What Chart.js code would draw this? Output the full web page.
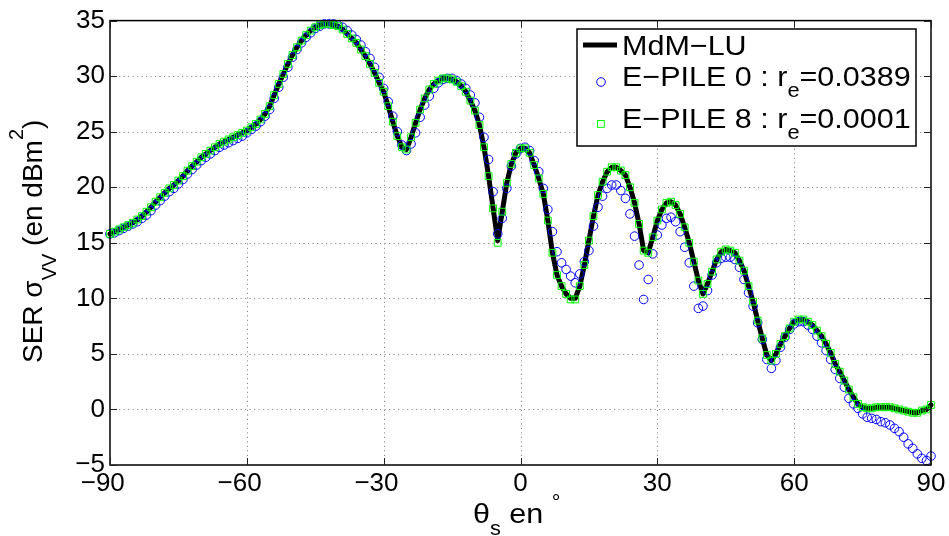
<!DOCTYPE html>
<html><head><meta charset="utf-8">
<script src="https://cdn.jsdelivr.net/npm/chart.js@4.4.1/dist/chart.umd.min.js"></script>
<style>html,body{margin:0;padding:0;background:#fff;}canvas{display:block;}</style>
</head><body>
<canvas id="c" width="949" height="536"></canvas>
<script>
// ---------- data ----------
const THETA = [
 -90,-89,-88,-87,-86,-85,-84,-83,-82,-81,
 -80,-79,-78,-77,-76,-75,-74,-73,-72,-71,
 -70,-69,-68,-67,-66,-65,-64,-63,-62,-61,
 -60,-59,-58,-57,-56,-55,-54,-53,-52,-51,
 -50,-49,-48,-47,-46,-45,-44,-43,-42,-41,
 -40,-39,-38,-37,-36,-35,-34,-33,-32,-31,
 -30,-29,-28,-27,-26,-25,-24,-23,-22,-21,
 -20,-19,-18,-17,-16,-15,-14,-13,-12,-11,
 -10,-9,-8,-7,-6,-5,-4,-3,-2,-1,
 0,1,2,3,4,5,6,7,8,9,
 10,11,12,13,14,15,16,17,18,19,
 20,21,22,23,24,25,26,27,28,29,
 30,31,32,33,34,35,36,37,38,39,
 40,41,42,43,44,45,46,47,48,49,
 50,51,52,53,54,55,56,57,58,59,
 60,61,62,63,64,65,66,67,68,69,
 70,71,72,73,74,75,76,77,78,79,
 80,81,82,83,84,85,86,87,88,89,90
];
const MDM_LU = [
 15.8,16.0,16.2,16.4,16.6,16.8,17.1,17.4,17.8,18.2,
 18.7,19.1,19.5,19.9,20.2,20.6,21.0,21.5,21.9,22.3,
 22.7,23.0,23.3,23.6,23.9,24.1,24.3,24.5,24.7,24.9,
 25.1,25.4,25.7,26.1,26.6,27.3,28.3,29.3,30.2,31.1,
 31.9,32.6,33.2,33.7,34.1,34.4,34.6,34.7,34.7,34.6,
 34.5,34.2,33.8,33.4,33.0,32.4,31.8,31.1,30.3,29.4,
 28.6,27.3,25.9,24.6,23.6,23.4,24.5,25.8,27.0,28.0,
 28.8,29.3,29.6,29.8,29.8,29.7,29.5,29.1,28.6,27.8,
 26.9,25.6,23.6,21.0,18.1,15.2,17.8,20.4,22.1,23.1,
 23.5,23.5,23.1,22.0,20.8,19.4,17.0,14.1,12.1,11.1,
 10.4,10.0,10.0,11.1,13.0,15.2,17.4,19.3,20.5,21.4,
 21.8,21.8,21.5,21.1,20.0,18.6,16.7,14.3,14.1,15.5,
 17.0,18.0,18.6,18.7,18.4,17.6,16.4,15.0,13.3,11.6,
 10.4,11.3,12.4,13.5,14.2,14.4,14.3,14.1,13.4,12.5,
 11.1,9.7,8.0,6.4,4.9,4.4,5.0,5.9,6.6,7.3,
 7.9,8.1,8.1,7.9,7.6,7.1,6.6,5.9,5.1,4.1,
 3.4,2.6,1.8,1.1,0.5,0.2,0.1,0.1,0.2,0.2,
 0.2,0.2,0.1,0.0,-0.1,-0.2,-0.3,-0.3,-0.1,0.0,0.4
];
const EPILE0 = [
 15.8,15.9,16.1,16.3,16.5,16.7,16.9,17.2,17.5,17.9,
 18.4,18.8,19.2,19.6,19.9,20.3,20.7,21.2,21.6,22.0,
 22.4,22.7,23.0,23.3,23.6,23.8,24.0,24.2,24.4,24.6,
 24.9,25.2,25.5,25.9,26.4,27.0,28.0,29.0,29.9,30.8,
 31.7,32.4,33.0,33.5,33.9,34.3,34.5,34.7,34.7,34.7,
 34.6,34.4,34.1,33.7,33.3,32.8,32.2,31.6,30.8,29.9,
 28.9,27.7,26.4,25.0,23.8,23.3,23.9,24.9,26.3,27.4,
 28.2,28.9,29.4,29.7,29.8,29.8,29.6,29.3,28.9,28.3,
 27.6,26.3,24.5,22.5,19.6,15.8,17.2,19.9,21.9,23.0,
 23.5,23.6,23.3,22.4,21.4,19.9,18.0,16.0,14.2,13.2,
 12.6,12.0,11.4,12.2,13.3,14.3,16.5,18.2,19.2,19.9,
 20.2,20.2,19.7,19.0,17.6,15.6,13.0,9.9,11.7,14.0,
 15.7,16.6,17.2,17.3,16.9,16.0,14.6,13.2,11.1,9.1,
 9.3,10.7,12.1,13.2,13.6,13.7,13.7,13.5,12.8,11.7,
 10.5,9.3,7.8,6.3,4.5,3.7,4.4,5.6,6.5,7.2,
 7.7,7.9,7.9,7.6,7.2,6.6,6.0,5.3,4.5,3.6,
 2.8,2.0,1.0,0.5,0.1,-0.4,-0.7,-0.8,-0.9,-1.1,
 -1.2,-1.4,-1.7,-2.0,-2.5,-3.1,-3.5,-4.0,-4.4,-4.6,-4.2
];
const EPILE8 = [
 15.8,16.0,16.2,16.4,16.6,16.8,17.1,17.4,17.8,18.2,
 18.7,19.1,19.5,19.9,20.2,20.6,21.0,21.5,21.9,22.3,
 22.7,23.0,23.3,23.6,23.9,24.1,24.3,24.5,24.7,24.9,
 25.1,25.4,25.7,26.1,26.6,27.3,28.3,29.3,30.2,31.1,
 31.9,32.6,33.2,33.7,34.1,34.4,34.6,34.7,34.7,34.6,
 34.5,34.2,33.8,33.4,33.0,32.4,31.8,31.1,30.3,29.4,
 28.6,27.3,25.9,24.6,23.6,23.4,24.5,25.8,27.0,28.0,
 28.8,29.3,29.6,29.8,29.8,29.7,29.5,29.1,28.6,27.8,
 26.9,25.6,23.6,21.0,18.1,15.0,17.8,20.4,22.1,23.1,
 23.5,23.5,23.1,22.0,20.8,19.4,17.0,14.1,12.1,11.1,
 10.4,9.9,9.9,11.1,13.0,15.2,17.4,19.3,20.5,21.4,
 21.8,21.8,21.5,21.1,20.0,18.6,16.7,14.3,14.1,15.5,
 17.0,18.0,18.6,18.7,18.4,17.6,16.4,15.0,13.3,11.6,
 10.4,11.3,12.4,13.5,14.2,14.4,14.3,14.1,13.4,12.5,
 11.1,9.7,8.0,6.4,4.9,4.4,5.0,5.9,6.6,7.3,
 7.9,8.1,8.1,7.9,7.6,7.1,6.6,5.9,5.1,4.1,
 3.4,2.6,1.8,1.1,0.5,0.2,0.1,0.1,0.2,0.2,
 0.2,0.2,0.1,0.0,-0.1,-0.2,-0.3,-0.3,-0.1,0.0,0.4
];
const X_TICKS = [-90, -60, -30, 0, 30, 60, 90];
const Y_TICKS = [-5, 0, 5, 10, 15, 20, 25, 30, 35];
const LEGEND_NAMES = ['MdM\u2212LU', 'E\u2212PILE 0 : r', 'E\u2212PILE 8 : r'];
const LEGEND_SUB = ['', 'e', 'e'];
const LEGEND_VALUES = ['', '=0.0389', '=0.0001'];
const Y_TITLE = ['SER \u03c3', 'VV', ' (en dBm', '2', ')'];
const X_TITLE = ['\u03b8', 's', ' en ', '\u00b0'];

// ---------- style ----------
const FONT = "'Liberation Sans', Arial, Helvetica, sans-serif";
const BIG = 28, SMALL = 20, TICK = 26, STRETCH = 1.09;

function richText(ctx, segs, x, y, stretch) {
  let cx = x;
  segs.forEach(s => {
    ctx.font = s.size + 'px ' + FONT;
    ctx.save();
    ctx.translate(cx, y + (s.dy || 0));
    ctx.scale(stretch, 1);
    ctx.fillText(s.t, 0, 0);
    ctx.restore();
    cx += ctx.measureText(s.t).width * stretch;
  });
}

const overlay = {
  id: 'overlay',
  beforeDatasetsDraw(chart) {
    const {ctx, chartArea: a, scales: {x, y}} = chart;
    ctx.save();
    ctx.strokeStyle = '#8c8c8c';
    ctx.lineWidth = 1;
    ctx.setLineDash([1.2, 3.3]);
    X_TICKS.forEach(v => {
      const px = Math.round(x.getPixelForValue(v)) + 0.5;
      if (px > a.left + 2 && px < a.right - 2) {
        ctx.beginPath(); ctx.moveTo(px, a.bottom); ctx.lineTo(px, a.top); ctx.stroke();
      }
    });
    Y_TICKS.forEach(v => {
      const py = Math.round(y.getPixelForValue(v)) + 0.5;
      if (py > a.top + 2 && py < a.bottom - 2) {
        ctx.beginPath(); ctx.moveTo(a.left, py); ctx.lineTo(a.right, py); ctx.stroke();
      }
    });
    ctx.restore();
  },
  afterDatasetsDraw(chart) {
    const {ctx, chartArea: a, scales: {x, y}} = chart;
    ctx.save();
    // axes box
    ctx.strokeStyle = '#000';
    ctx.lineWidth = 1.5;
    ctx.strokeRect(a.left, a.top, a.right - a.left, a.bottom - a.top);
    // inward ticks on all sides
    ctx.lineWidth = 1;
    ctx.strokeStyle = '#222';
    const TL = 7;
    X_TICKS.forEach(v => {
      const px = Math.round(x.getPixelForValue(v)) + 0.5;
      ctx.beginPath();
      ctx.moveTo(px, a.bottom); ctx.lineTo(px, a.bottom - TL);
      ctx.moveTo(px, a.top); ctx.lineTo(px, a.top + TL);
      ctx.stroke();
    });
    Y_TICKS.forEach(v => {
      const py = Math.round(y.getPixelForValue(v)) + 0.5;
      ctx.beginPath();
      ctx.moveTo(a.left, py); ctx.lineTo(a.left + TL, py);
      ctx.moveTo(a.right, py); ctx.lineTo(a.right - TL, py);
      ctx.stroke();
    });

    // legend
    const lx = 577, ly = 29, lw = 339, lh = 117;
    ctx.fillStyle = '#fff';
    ctx.fillRect(lx, ly, lw, lh);
    ctx.strokeStyle = '#000';
    ctx.lineWidth = 1.5;
    ctx.strokeRect(lx, ly, lw, lh);
    ctx.fillStyle = '#000';
    ctx.textBaseline = 'alphabetic';
    ctx.textAlign = 'left';
    const baselines = [55, 86, 128];
    // sample line
    ctx.beginPath(); ctx.lineWidth = 5; ctx.strokeStyle = '#000';
    ctx.moveTo(583, 45); ctx.lineTo(617, 45); ctx.stroke();
    // sample circle
    ctx.lineWidth = 1; ctx.strokeStyle = '#0000ff';
    ctx.beginPath(); ctx.arc(601, 82, 4.3, 0, Math.PI * 2); ctx.stroke();
    // sample square
    ctx.strokeStyle = '#00ff00';
    ctx.strokeRect(597.5, 120.5, 6.8, 6.8);
    LEGEND_NAMES.forEach((name, i) => {
      const segs = [{t: name, size: BIG}];
      if (LEGEND_SUB[i]) segs.push({t: LEGEND_SUB[i], size: SMALL, dy: 11});
      if (LEGEND_VALUES[i]) segs.push({t: LEGEND_VALUES[i], size: BIG});
      richText(ctx, segs, 622, baselines[i], STRETCH);
    });

    // x title
    richText(ctx, [
      {t: X_TITLE[0], size: BIG},
      {t: X_TITLE[1], size: SMALL, dy: 12},
      {t: X_TITLE[2], size: BIG},
      {t: X_TITLE[3], size: SMALL, dy: -14}
    ], 473, 523, STRETCH);

    // y title (rotated)
    ctx.save();
    ctx.translate(42, 363);
    ctx.rotate(-Math.PI / 2);
    richText(ctx, [
      {t: Y_TITLE[0], size: BIG},
      {t: Y_TITLE[1], size: SMALL, dy: 14},
      {t: Y_TITLE[2], size: BIG},
      {t: Y_TITLE[3], size: SMALL, dy: -19},
      {t: Y_TITLE[4], size: BIG}
    ], 0, 0, 1);
    ctx.restore();
    ctx.restore();
  }
};

const pts = arr => THETA.map((t, i) => ({x: t, y: arr[i]}));
const fmt = v => (v < 0 ? '\u2212' + Math.abs(v) : String(v));

Chart.defaults.font.family = FONT;
new Chart(document.getElementById('c'), {
  type: 'scatter',
  data: {
    datasets: [
      {label: 'E\u2212PILE 8', data: pts(EPILE8), showLine: false, clip: false,
       pointStyle: 'rect', pointRadius: 4.8, pointHoverRadius: 4.8,
       pointBorderColor: '#00ff00', pointBackgroundColor: 'rgba(0,0,0,0)', pointBorderWidth: 1},
      {label: 'E\u2212PILE 0', data: pts(EPILE0), showLine: false, clip: false,
       pointStyle: 'circle', pointRadius: 4.3, pointHoverRadius: 4.3,
       pointBorderColor: '#0000ff', pointBackgroundColor: 'rgba(0,0,0,0)', pointBorderWidth: 1},
      {label: 'MdM\u2212LU', data: pts(MDM_LU), showLine: true, clip: false,
       borderColor: '#000', borderWidth: 5, pointRadius: 0, pointHoverRadius: 0,
       borderJoinStyle: 'round', borderCapStyle: 'round', tension: 0, fill: false}
    ]
  },
  options: {
    responsive: false, animation: false, devicePixelRatio: 1, events: [],
    layout: {padding: {left: 0, right: 18, top: 20, bottom: 0}},
    plugins: {legend: {display: false}, tooltip: {enabled: false}},
    scales: {
      x: {
        type: 'linear', min: -90, max: 90,
        grid: {display: false, drawTicks: false}, border: {display: false},
        afterBuildTicks: s => { s.ticks = X_TICKS.map(v => ({value: v})); },
        afterFit: s => { s.height = 71; },
        ticks: {color: '#000', font: {size: TICK}, padding: 3, maxRotation: 0, autoSkip: false,
                callback: v => (v < 0 ? fmt(v) + '\u2007' : fmt(v))}
      },
      y: {
        type: 'linear', min: -5, max: 35,
        grid: {display: false, drawTicks: false}, border: {display: false},
        afterBuildTicks: s => { s.ticks = Y_TICKS.map(v => ({value: v})); },
        afterFit: s => { s.width = 110; },
        ticks: {color: '#000', font: {size: TICK}, padding: 5, autoSkip: false, callback: v => fmt(v)}
      }
    }
  },
  plugins: [overlay]
});
</script>
</body></html>
